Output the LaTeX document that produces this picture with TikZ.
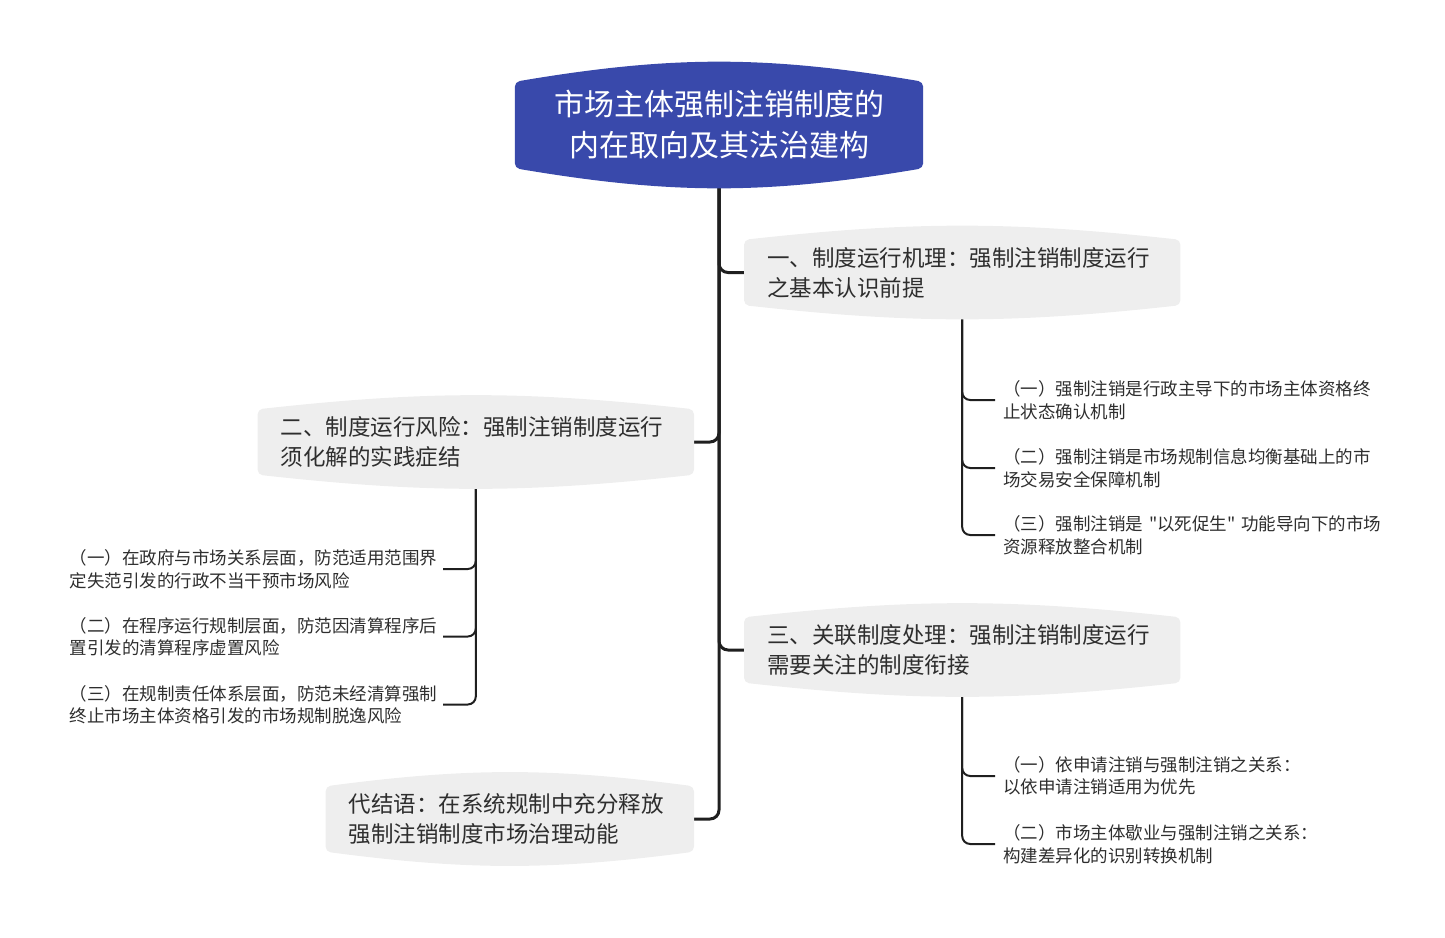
\documentclass[tikz,border=0pt]{standalone}
\usepackage{fontspec}
\newfontfamily\cjk{Noto Sans CJK SC}
\definecolor{rootblue}{HTML}{3949AB}
\definecolor{topicgray}{HTML}{EEEEEE}
\definecolor{inkgray}{HTML}{2E2E2E}
\definecolor{linedark}{HTML}{1F1F1F}
\pgfdeclarelayer{lines}
\pgfdeclarelayer{shapes}
\pgfsetlayers{lines,shapes,main}
\tikzset{
    map root/.style={
        minimum width=408pt,
        minimum height=86pt,
        inner sep=0pt,
        align=center,
        text=white,
        font=\cjk\fontsize{30}{41}\selectfont
    },
    map topic/.style={
        anchor=west,
        text width=390pt,
        inner xsep=23pt,
        inner ysep=0pt,
        minimum height=65pt,
        align=left,
        text=inkgray,
        font=\cjk\fontsize{22.5}{30}\selectfont
    },
    map leaf/.style={
        anchor=west,
        text width=385pt,
        inner xsep=8pt,
        inner ysep=2pt,
        align=left,
        text=inkgray,
        font=\cjk\fontsize{17.5}{22.5}\selectfont
    },
    map leaf left/.style={
        map leaf,
        anchor=east,
        text width=368pt,
        inner xsep=5pt
    },
    map trunk/.style={line width=3pt, draw=linedark, rounded corners=9pt},
    map twig/.style={line width=2pt, draw=linedark, rounded corners=8pt}
}
\newcommand{\bulgefill}[3]{%
    \begin{pgfonlayer}{shapes}
        \fill[#3, rounded corners=5pt] (#1.north west) to[bend left=#2] (#1.north east)
            -- (#1.south east) to[bend left=#2] (#1.south west) -- cycle;
    \end{pgfonlayer}}

\begin{document}
\begin{tikzpicture}[x=1pt,y=-1pt]
    \useasboundingbox (0,0) rectangle (1445,937);

    \node[map root] (root) at (719,125) {市场主体强制注销制度的\\内在取向及其法治建构};

    \node[map topic] (rule) at (744,272.5) {一、制度运行机理：强制注销制度运行\\之基本认识前提};
    \node[map topic, anchor=east] (risk) at (694,442) {二、制度运行风险：强制注销制度运行\\须化解的实践症结};
    \node[map topic] (link) at (744,650) {三、关联制度处理：强制注销制度运行\\需要关注的制度衔接};
    \node[map topic, anchor=east, text width=322pt] (close) at (694,819) {代结语：在系统规制中充分释放\\强制注销制度市场治理动能};

    \node[map leaf] (rule1) at (995,400) {（一）强制注销是行政主导下的市场主体资格终\\止状态确认机制};
    \node[map leaf] (rule2) at (995,468) {（二）强制注销是市场规制信息均衡基础上的市\\场交易安全保障机制};
    \node[map leaf] (rule3) at (995,535) {（三）强制注销是~"以死促生"~功能导向下的市场\\资源释放整合机制};

    \node[map leaf left] (risk1) at (443,569) {（一）在政府与市场关系层面，防范适用范围界\\定失范引发的行政不当干预市场风险};
    \node[map leaf left] (risk2) at (443,636.5) {（二）在程序运行规制层面，防范因清算程序后\\置引发的清算程序虚置风险};
    \node[map leaf left] (risk3) at (443,704.5) {（三）在规制责任体系层面，防范未经清算强制\\终止市场主体资格引发的市场规制脱逸风险};

    \node[map leaf] (link1) at (995,776) {（一）依申请注销与强制注销之关系：\\以依申请注销适用为优先};
    \node[map leaf] (link2) at (995,844) {（二）市场主体歇业与强制注销之关系：\\构建差异化的识别转换机制};

    \bulgefill{root}{9.6}{rootblue}
    \bulgefill{rule}{6.3}{topicgray}
    \bulgefill{risk}{6.3}{topicgray}
    \bulgefill{link}{6.3}{topicgray}
    \bulgefill{close}{7.5}{topicgray}

    \begin{pgfonlayer}{lines}
        \foreach \topic in {rule,risk,link,close}
            \draw[map trunk] (root) |- (\topic);
        \foreach \leaf in {rule1,rule2,rule3}
            \draw[map twig] (rule) |- (\leaf);
        \foreach \leaf in {risk1,risk2,risk3}
            \draw[map twig] (risk) |- (\leaf);
        \foreach \leaf in {link1,link2}
            \draw[map twig] (link) |- (\leaf);
    \end{pgfonlayer}
\end{tikzpicture}
\end{document}
